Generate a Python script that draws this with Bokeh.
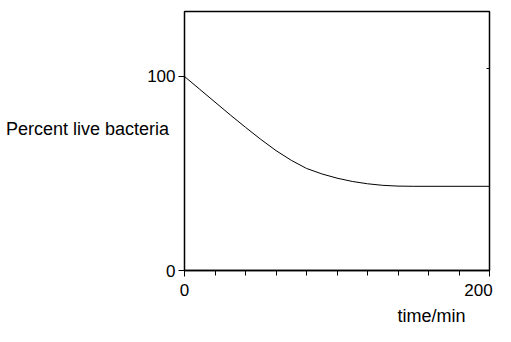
from bokeh.plotting import figure
from bokeh.models import Range1d, FixedTicker, LinearAxis, Title
from bokeh.embed import file_html
from bokeh.resources import INLINE

# ---- data ----
time_min = [0, 10, 20, 30, 40, 50, 60, 70, 80, 90, 100, 110, 120, 130, 140, 150, 200]
percent_live = [100, 93.4, 86.8, 80.2, 73.8, 67.6, 61.8, 56.8, 52.6, 49.8, 47.6, 45.9, 44.7, 43.9, 43.5, 43.4, 43.4]

x_tick_vals = [0, 200]
x_tick_labels = ["0", "200"]
x_minor_vals = [20, 40, 60, 80, 100, 120, 140, 160, 180]
y_tick_vals = [0, 100]
y_tick_labels = ["0", "100"]
x_title = "time/min"
y_title = "Percent live bacteria"

FONT = "Liberation Sans"
NBSP = "\u00a0"

p = figure(width=511, height=342, output_backend="svg", toolbar_location=None,
           x_range=Range1d(0, 200), y_range=Range1d(0, 133.5),
           min_border_left=184, min_border_right=22, min_border_top=11, min_border_bottom=72)
p.background_fill_color = "white"
p.border_fill_color = "white"
p.outline_line_color = "black"
p.outline_line_width = 1.5
p.grid.visible = False

p.line(time_min, percent_live, line_color="black", line_width=1)

xa = p.xaxis[0]
xa.ticker = FixedTicker(ticks=x_tick_vals, minor_ticks=x_minor_vals)
# the last label sits left of its tick in the original (right-aligned)
xa.major_label_overrides = {v: (t if i == 0 else t + NBSP * 4)
                            for i, (v, t) in enumerate(zip(x_tick_vals, x_tick_labels))}
xa.major_label_text_font = FONT
xa.major_label_text_font_size = "17px"
xa.major_label_text_color = "black"
xa.major_label_standoff = 4
xa.axis_line_width = 1.5
xa.major_tick_in = 0
xa.major_tick_out = 6
xa.minor_tick_in = 0
xa.minor_tick_out = 5
xa.major_tick_line_color = "black"
xa.minor_tick_line_color = "black"

ya = p.yaxis[0]
ya.ticker = FixedTicker(ticks=y_tick_vals, minor_ticks=[])
ya.major_label_overrides = {v: t for v, t in zip(y_tick_vals, y_tick_labels)}
ya.major_label_text_font = FONT
ya.major_label_text_font_size = "17px"
ya.major_label_text_color = "black"
ya.major_label_standoff = 3
ya.axis_line_color = None
ya.major_tick_in = 0
ya.major_tick_out = 6
ya.minor_tick_out = 0
ya.minor_tick_in = 0
ya.axis_label = y_title + "\n"
ya.axis_label_orientation = "horizontal"
ya.axis_label_text_font = FONT
ya.axis_label_text_font_size = "18px"
ya.axis_label_text_font_style = "normal"
ya.axis_label_text_color = "black"
ya.axis_label_standoff = -25

ra = LinearAxis(ticker=FixedTicker(ticks=[104], minor_ticks=[]), major_label_text_font_size="0px",
                major_label_text_alpha=0, axis_line_alpha=0, major_tick_in=3, major_tick_out=0,
                minor_tick_in=0, minor_tick_out=0)
p.add_layout(ra, "right")

p.add_layout(Title(text=x_title, align="left", offset=213, standoff=3, text_font=FONT,
                   text_font_size="18px", text_font_style="normal", text_color="black"), "below")

open("out.html", "w").write(file_html(p, INLINE))
